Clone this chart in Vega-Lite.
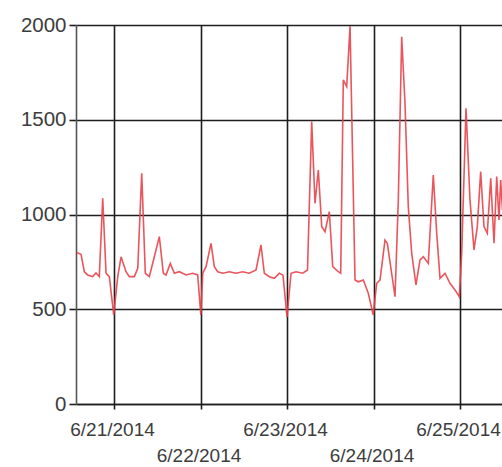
{
  "$schema": "https://vega.github.io/schema/vega-lite/v6.json",
  "width": 426,
  "height": 379,
  "autosize": {"type": "none"},
  "padding": {"left": 76, "top": 25, "right": 0, "bottom": 63},
  "background": "white",
  "config": {"view": {"stroke": null}},
  "data": {"values": [
    {"t": "2014-06-20T13:36", "v": 800},
    {"t": "2014-06-20T14:51", "v": 790},
    {"t": "2014-06-20T15:46", "v": 698},
    {"t": "2014-06-20T16:42", "v": 681},
    {"t": "2014-06-20T18:05", "v": 672},
    {"t": "2014-06-20T19:00", "v": 691},
    {"t": "2014-06-20T19:55", "v": 672},
    {"t": "2014-06-20T20:52", "v": 1085},
    {"t": "2014-06-20T21:47", "v": 690},
    {"t": "2014-06-20T22:42", "v": 672},
    {"t": "2014-06-20T23:55", "v": 470},
    {"t": "2014-06-21T01:02", "v": 672},
    {"t": "2014-06-21T01:57", "v": 777},
    {"t": "2014-06-21T03:20", "v": 698},
    {"t": "2014-06-21T04:15", "v": 672},
    {"t": "2014-06-21T05:38", "v": 672},
    {"t": "2014-06-21T06:35", "v": 716},
    {"t": "2014-06-21T07:41", "v": 1217},
    {"t": "2014-06-21T08:41", "v": 690},
    {"t": "2014-06-21T09:48", "v": 672},
    {"t": "2014-06-21T11:11", "v": 777},
    {"t": "2014-06-21T12:34", "v": 883},
    {"t": "2014-06-21T13:41", "v": 690},
    {"t": "2014-06-21T14:26", "v": 681},
    {"t": "2014-06-21T15:37", "v": 742},
    {"t": "2014-06-21T16:44", "v": 690},
    {"t": "2014-06-21T18:07", "v": 698},
    {"t": "2014-06-21T19:59", "v": 681},
    {"t": "2014-06-21T21:50", "v": 690},
    {"t": "2014-06-21T23:13", "v": 681},
    {"t": "2014-06-22T00:05", "v": 470},
    {"t": "2014-06-22T00:37", "v": 690},
    {"t": "2014-06-22T01:32", "v": 725},
    {"t": "2014-06-22T02:55", "v": 848},
    {"t": "2014-06-22T03:50", "v": 725},
    {"t": "2014-06-22T04:46", "v": 698},
    {"t": "2014-06-22T06:10", "v": 690},
    {"t": "2014-06-22T07:59", "v": 698},
    {"t": "2014-06-22T09:51", "v": 690},
    {"t": "2014-06-22T11:42", "v": 698},
    {"t": "2014-06-22T13:32", "v": 690},
    {"t": "2014-06-22T15:24", "v": 707},
    {"t": "2014-06-22T16:47", "v": 839},
    {"t": "2014-06-22T17:42", "v": 690},
    {"t": "2014-06-22T19:05", "v": 672},
    {"t": "2014-06-22T20:29", "v": 663},
    {"t": "2014-06-22T21:52", "v": 690},
    {"t": "2014-06-22T22:53", "v": 680},
    {"t": "2014-06-23T00:00", "v": 460},
    {"t": "2014-06-23T01:07", "v": 690},
    {"t": "2014-06-23T02:30", "v": 698},
    {"t": "2014-06-23T04:21", "v": 690},
    {"t": "2014-06-23T05:41", "v": 707},
    {"t": "2014-06-23T06:51", "v": 1490},
    {"t": "2014-06-23T07:46", "v": 1059},
    {"t": "2014-06-23T08:41", "v": 1235},
    {"t": "2014-06-23T09:38", "v": 936},
    {"t": "2014-06-23T10:33", "v": 909},
    {"t": "2014-06-23T11:44", "v": 1015},
    {"t": "2014-06-23T12:41", "v": 725},
    {"t": "2014-06-23T14:14", "v": 698},
    {"t": "2014-06-23T14:54", "v": 690},
    {"t": "2014-06-23T15:37", "v": 1710},
    {"t": "2014-06-23T16:34", "v": 1675},
    {"t": "2014-06-23T17:29", "v": 1995},
    {"t": "2014-06-23T18:52", "v": 654},
    {"t": "2014-06-23T19:47", "v": 645},
    {"t": "2014-06-23T21:10", "v": 654},
    {"t": "2014-06-23T22:33", "v": 584},
    {"t": "2014-06-23T23:55", "v": 470},
    {"t": "2014-06-24T00:53", "v": 637},
    {"t": "2014-06-24T01:48", "v": 654},
    {"t": "2014-06-24T03:11", "v": 865},
    {"t": "2014-06-24T03:50", "v": 848},
    {"t": "2014-06-24T05:58", "v": 566},
    {"t": "2014-06-24T06:53", "v": 1077},
    {"t": "2014-06-24T07:49", "v": 1938},
    {"t": "2014-06-24T08:44", "v": 1588},
    {"t": "2014-06-24T09:39", "v": 1041},
    {"t": "2014-06-24T10:36", "v": 795},
    {"t": "2014-06-24T11:47", "v": 628},
    {"t": "2014-06-24T12:54", "v": 760},
    {"t": "2014-06-24T13:49", "v": 777},
    {"t": "2014-06-24T15:12", "v": 742},
    {"t": "2014-06-24T16:35", "v": 1208},
    {"t": "2014-06-24T17:32", "v": 901},
    {"t": "2014-06-24T18:27", "v": 663},
    {"t": "2014-06-24T19:50", "v": 690},
    {"t": "2014-06-24T21:13", "v": 637},
    {"t": "2014-06-24T22:37", "v": 602},
    {"t": "2014-06-24T23:48", "v": 566},
    {"t": "2014-06-25T00:28", "v": 795},
    {"t": "2014-06-25T01:40", "v": 1560},
    {"t": "2014-06-25T02:46", "v": 1077},
    {"t": "2014-06-25T03:53", "v": 813},
    {"t": "2014-06-25T04:48", "v": 936},
    {"t": "2014-06-25T05:44", "v": 1226},
    {"t": "2014-06-25T06:39", "v": 936},
    {"t": "2014-06-25T07:34", "v": 901},
    {"t": "2014-06-25T08:31", "v": 1191},
    {"t": "2014-06-25T09:26", "v": 848},
    {"t": "2014-06-25T10:11", "v": 1200},
    {"t": "2014-06-25T10:49", "v": 971},
    {"t": "2014-06-25T11:17", "v": 1182},
    {"t": "2014-06-25T11:47", "v": 1024}
  ]},
  "mark": {"type": "line", "color": "#e8424a", "strokeWidth": 1.6, "opacity": 0.9, "clip": true},
  "encoding": {
    "x": {
      "field": "t",
      "type": "temporal",
      "scale": {"domain": [
        {"year": 2014, "month": 6, "date": 20, "hours": 13, "minutes": 27},
        {"year": 2014, "month": 6, "date": 25, "hours": 11, "minutes": 39}
      ]},
      "axis": {
        "title": null,
        "values": [
          {"year": 2014, "month": 6, "date": 21},
          {"year": 2014, "month": 6, "date": 22},
          {"year": 2014, "month": 6, "date": 23},
          {"year": 2014, "month": 6, "date": 24},
          {"year": 2014, "month": 6, "date": 25}
        ],
        "labelExpr": "date(datum.value) % 2 == 1 ? [timeFormat(datum.value, '%-m/%-d/%Y')] : ['', timeFormat(datum.value, '%-m/%-d/%Y')]",
        "labelLineHeight": 26,
        "labelFont": "Liberation Sans",
        "labelFontSize": 19,
        "labelColor": "#3d3d3d",
        "labelOverlap": false,
        "labelFlush": false,
        "labelBound": false,
        "labelOffset": -2,
        "labelPadding": 11,
        "tickSize": 5,
        "tickColor": "#1e1e1e",
        "tickWidth": 1.6,
        "grid": true,
        "gridColor": "#1e1e1e",
        "gridWidth": 1.6,
        "gridOpacity": 1,
        "domainColor": "#1e1e1e",
        "domainWidth": 1.6
      }
    },
    "y": {
      "field": "v",
      "type": "quantitative",
      "scale": {"domain": [0, 2000], "nice": false},
      "axis": {
        "title": null,
        "values": [0, 500, 1000, 1500, 2000],
        "format": "d",
        "labelFont": "Liberation Sans",
        "labelFontSize": 20.5,
        "labelColor": "#3d3d3d",
        "labelPadding": 3,
        "tickSize": 7,
        "tickColor": "#1e1e1e",
        "tickWidth": 1.6,
        "grid": true,
        "gridColor": "#1e1e1e",
        "gridWidth": 1.6,
        "gridOpacity": 1,
        "domainColor": "#555555",
        "domainWidth": 1.6
      }
    }
  }
}
